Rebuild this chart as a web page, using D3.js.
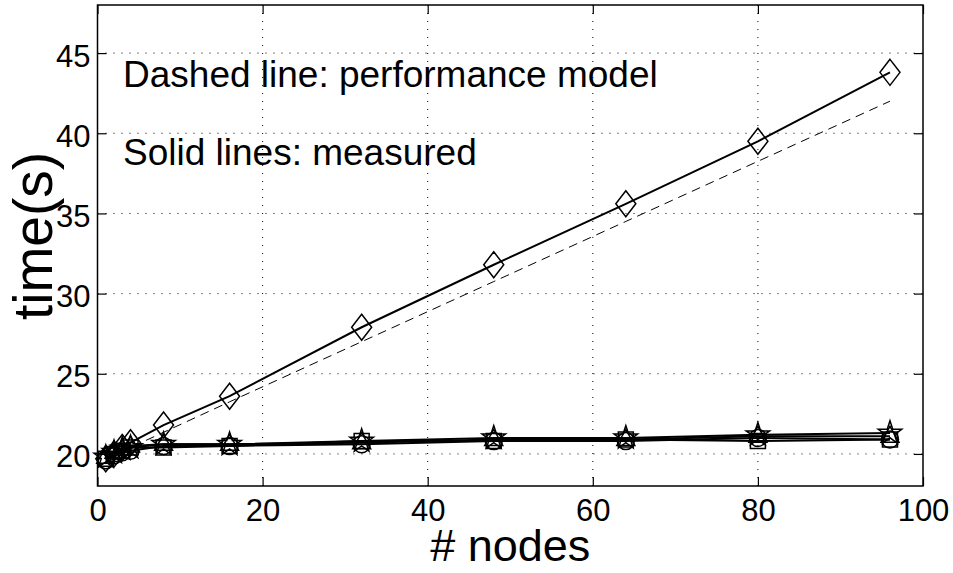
<!DOCTYPE html>
<html>
<head>
<meta charset="utf-8">
<script src="https://cdn.jsdelivr.net/npm/d3@7"></script>
<style>
  body { margin: 0; background: #fff; }
  svg { font-family: "Liberation Sans", Arial, sans-serif; }
</style>
</head>
<body>
<div class="chart"></div>
<script>
const width = 953;
const height = 573;
const margin = {top: 5, right: 30, bottom: 87, left: 97.5};

// data
const nodes = [1, 2, 3, 4, 8, 16, 32, 48, 64, 80, 96];
const diamond_time = [19.7, 20.0, 20.4, 20.7, 21.8, 23.6, 27.9, 31.8, 35.6, 39.5, 43.8];
const model_time = [19.6, 19.9, 20.2, 20.4, 21.35, 23.25, 27.0, 30.75, 34.5, 38.25, 42.0];
const circle_time = [19.6, 19.9, 20.1, 20.2, 20.5, 20.5, 20.6, 20.8, 20.8, 21.0, 20.9];
const square_time = [19.7, 20.0, 20.2, 20.4, 20.4, 20.5, 20.8, 20.8, 20.9, 20.8, 20.9];
const triangle_time = [19.8, 20.1, 20.3, 20.5, 20.6, 20.6, 20.7, 20.9, 20.9, 21.1, 21.1];
const star_time = [19.8, 20.1, 20.3, 20.4, 20.6, 20.6, 20.8, 21.0, 21.0, 21.2, 21.3];

const x_ticks = [0, 20, 40, 60, 80, 100];
const y_ticks = [20, 25, 30, 35, 40, 45];
const notes = ["Dashed line: performance model", "Solid lines: measured"];

const svg = d3.select(".chart").append("svg")
  .attr("width", width)
  .attr("height", height);

const x = d3.scaleLinear().domain([0, 100]).range([margin.left, width - margin.right]);
const y = d3.scaleLinear().domain([18, 48]).range([height - margin.bottom, margin.top]);

const x0 = x.range()[0], x1 = x.range()[1];
const y0 = y.range()[0], y1 = y.range()[1];

// dotted grid
const grid = svg.append("g").attr("stroke", "#000").attr("stroke-width", 1)
  .attr("stroke-dasharray", "1,7");
grid.selectAll(".gx").data(x_ticks.slice(1, -1)).enter().append("line")
  .attr("x1", d => x(d)).attr("x2", d => x(d))
  .attr("y1", y0).attr("y2", y1);
grid.selectAll(".gy").data(y_ticks).enter().append("line")
  .attr("x1", x0).attr("x2", x1)
  .attr("y1", d => y(d)).attr("y2", d => y(d));

// axes, ticks inside
const tick_len = 9;
svg.append("g")
  .attr("transform", "translate(0," + y0 + ")")
  .call(d3.axisBottom(x).tickValues(x_ticks).tickSize(-tick_len).tickPadding(13).tickSizeOuter(0))
  .call(g => g.select(".domain").remove());
svg.append("g")
  .attr("transform", "translate(0," + y1 + ")")
  .call(d3.axisTop(x).tickValues(x_ticks).tickSize(-tick_len).tickFormat("").tickSizeOuter(0))
  .call(g => g.select(".domain").remove());
svg.append("g")
  .attr("class", "y_axis")
  .attr("transform", "translate(" + x0 + ",0)")
  .call(d3.axisLeft(y).tickValues(y_ticks).tickSize(-tick_len).tickPadding(7).tickSizeOuter(0))
  .call(g => g.select(".domain").remove());
svg.append("g")
  .attr("transform", "translate(" + x1 + ",0)")
  .call(d3.axisRight(y).tickValues(y_ticks).tickSize(-tick_len).tickFormat("").tickSizeOuter(0))
  .call(g => g.select(".domain").remove());

svg.selectAll(".tick text")
  .attr("font-size", 31)
  .attr("fill", "#000")
  .style("font-family", "'Liberation Sans', Arial, sans-serif");
svg.selectAll(".y_axis .tick text").attr("dy", "0.42em");
svg.selectAll(".tick line").attr("stroke", "#000").attr("stroke-width", 1.2);

svg.append("rect")
  .attr("x", x0).attr("y", y1)
  .attr("width", x1 - x0).attr("height", y0 - y1)
  .attr("fill", "none").attr("stroke", "#000").attr("stroke-width", 1.5);

// lines
const line = d3.line().x((d, i) => x(nodes[i])).y(d => y(d));

svg.append("path").datum(model_time)
  .attr("d", line).attr("fill", "none")
  .attr("stroke", "#000").attr("stroke-width", 1)
  .attr("stroke-dasharray", "9,6");

const series = [
  {values: circle_time, shape: "circle"},
  {values: square_time, shape: "square"},
  {values: triangle_time, shape: "triangle"},
  {values: star_time, shape: "star"},
  {values: diamond_time, shape: "diamond"}
];

series.forEach(s => {
  svg.append("path").datum(s.values)
    .attr("d", line).attr("fill", "none")
    .attr("stroke", "#000").attr("stroke-width", 2);
});

// marker shapes
function marker_path(shape) {
  if (shape === "circle") return d3.symbol().type(d3.symbolCircle).size(Math.PI * 8.5 * 8.5)();
  if (shape === "square") return d3.symbol().type(d3.symbolSquare).size(15 * 15)();
  if (shape === "triangle") return "M0,-10L9,6L-9,6Z";
  if (shape === "star") return d3.symbol().type(d3.symbolStar).size(170)();
  if (shape === "diamond") return "M0,-13L10,0L0,13L-10,0Z";
}

series.forEach(s => {
  svg.append("g").selectAll("path")
    .data(s.values)
    .enter().append("path")
    .attr("transform", (d, i) => "translate(" + x(nodes[i]) + "," + y(d) + ")")
    .attr("d", marker_path(s.shape))
    .attr("fill", "none")
    .attr("stroke", "#000")
    .attr("stroke-width", 1.5);
});

// annotations
svg.selectAll(".note").data(notes).enter().append("text")
  .attr("x", 123)
  .attr("y", (d, i) => 87 + i * 78)
  .attr("font-size", 37)
  .text(d => d);

// axis titles
svg.append("text")
  .attr("x", (x0 + x1) / 2)
  .attr("y", 561)
  .attr("text-anchor", "middle")
  .attr("font-size", 45)
  .text("# nodes");

svg.append("text")
  .attr("transform", "translate(52,236) rotate(-90)")
  .attr("text-anchor", "middle")
  .attr("font-size", 55)
  .text("time(s)");
</script>
</body>
</html>
